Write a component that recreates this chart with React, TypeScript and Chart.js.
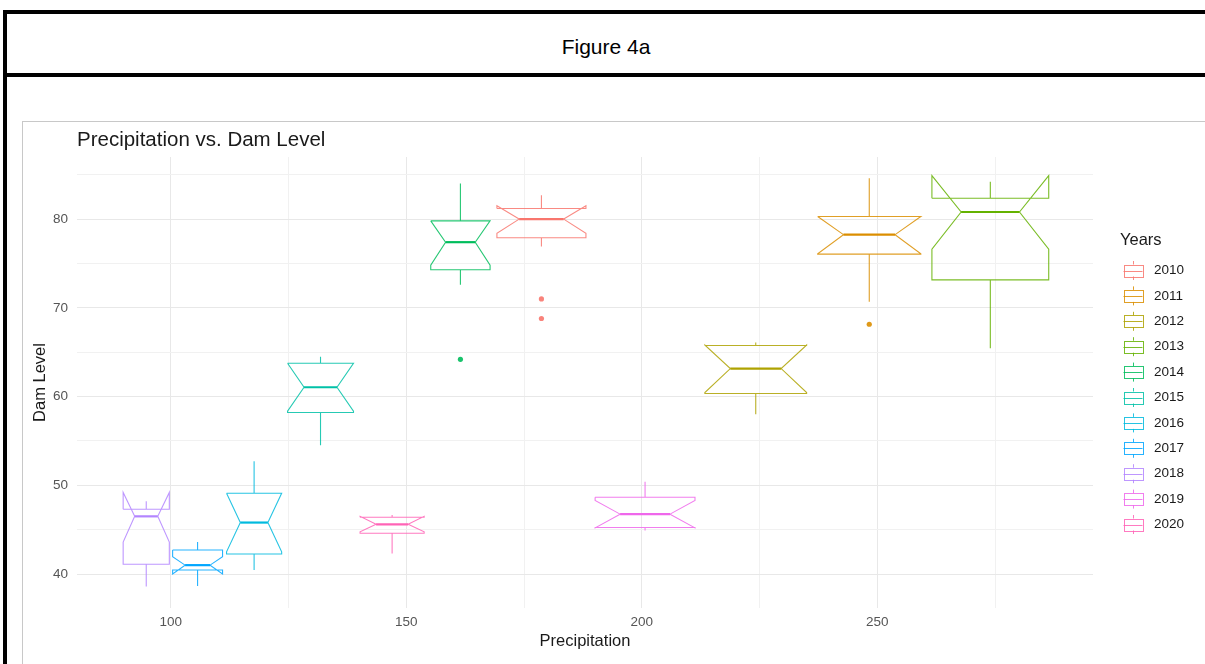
import { useEffect, useRef } from "react";
import { Chart, registerables } from "chart.js";

Chart.register(...registerables);

// Box statistics per year (x = precipitation, y = dam level)
const years = ["2010", "2011", "2012", "2013", "2014", "2015", "2016", "2017", "2018", "2019", "2020"];
const colors = ["#F8766D", "#DB8E00", "#AEA200", "#64B200", "#00BD5C", "#00C1A7", "#00BADE", "#00A6FF", "#B385FF", "#EF67EB", "#FF63B6"];
const precipitation = [178.7, 248.3, 224.2, 274.0, 161.5, 131.8, 117.7, 105.7, 94.8, 200.7, 147.0];
const boxWidths = [18.9, 21.9, 21.6, 24.8, 12.6, 14.0, 11.7, 10.6, 9.8, 21.2, 13.6];
const lowerWhisker = [76.9, 70.7, 58.0, 65.45, 72.6, 54.5, 40.45, 38.65, 38.6, 44.9, 42.3];
const lowerHinge = [77.9, 76.05, 60.35, 73.15, 74.3, 58.2, 42.25, 40.45, 41.1, 45.25, 44.6];
const medians = [80.0, 78.25, 63.15, 80.8, 77.4, 61.05, 45.8, 41.0, 46.5, 46.75, 45.6];
const upperHinge = [81.2, 80.3, 65.75, 82.35, 79.8, 63.75, 49.1, 42.7, 47.3, 48.65, 46.4];
const upperWhisker = [82.7, 84.6, 66.1, 84.2, 84.0, 64.5, 52.7, 43.6, 48.2, 50.4, 46.65];
const notchLower = [78.4, 76.1, 60.45, 76.6, 74.8, 58.35, 42.5, 40.0, 43.6, 45.2, 44.75];
const notchUpper = [81.5, 80.3, 65.8, 84.9, 79.8, 63.75, 49.1, 41.95, 49.2, 48.3, 46.5];
const outliers: number[][] = [[71.0, 68.8], [68.15], [], [], [64.2], [], [], [], [], [], []];

// Axis ranges and ticks
const xMin = 80.1;
const xMax = 295.8;
const yMin = 36.17;
const yMax = 87.0;
const xTickValues = [100, 125, 150, 175, 200, 225, 250, 275];
const yTickValues = [40, 45, 50, 55, 60, 65, 70, 75, 80, 85];
const xLabelStep = 50;
const yLabelStep = 10;

const plotTitle = "Precipitation vs. Dam Level";
const legendTitle = "Years";
const FONT = '"Liberation Sans", Arial, sans-serif';

function withAlpha(hex: string, a: number) {
  const n = parseInt(hex.slice(1), 16);
  return `rgba(${(n >> 16) & 255}, ${(n >> 8) & 255}, ${n & 255}, ${a})`;
}

function buildDatasets() {
  const sets: any[] = [];
  years.forEach((year, i) => {
    const c = precipitation[i];
    const half = boxWidths[i] / 2;
    const indent = boxWidths[i] / 4;
    const l = c - half;
    const r = c + half;
    const outline = [
      { x: l, y: upperHinge[i] },
      { x: l, y: notchUpper[i] },
      { x: l + indent, y: medians[i] },
      { x: l, y: notchLower[i] },
      { x: l, y: lowerHinge[i] },
      { x: r, y: lowerHinge[i] },
      { x: r, y: notchLower[i] },
      { x: r - indent, y: medians[i] },
      { x: r, y: notchUpper[i] },
      { x: r, y: upperHinge[i] },
      { x: l, y: upperHinge[i] },
      { x: c, y: null },
      { x: c, y: upperHinge[i] },
      { x: c, y: upperWhisker[i] },
      { x: c, y: null },
      { x: c, y: lowerHinge[i] },
      { x: c, y: lowerWhisker[i] },
    ];
    sets.push({
      label: year,
      data: outline,
      showLine: true,
      spanGaps: false,
      tension: 0,
      borderColor: withAlpha(colors[i], 0.85),
      borderWidth: 1.1,
      pointRadius: 0,
      pointHoverRadius: 0,
      fill: false,
    });
    sets.push({
      label: year + " median",
      data: [
        { x: l + indent, y: medians[i] },
        { x: r - indent, y: medians[i] },
      ],
      showLine: true,
      borderColor: colors[i],
      borderWidth: 2.2,
      pointRadius: 0,
      pointHoverRadius: 0,
      fill: false,
    });
    if (outliers[i].length) {
      sets.push({
        label: year + " outliers",
        data: outliers[i].map((v) => ({ x: c, y: v })),
        showLine: false,
        pointRadius: 2.6,
        pointHoverRadius: 2.6,
        backgroundColor: withAlpha(colors[i], 0.9),
        borderWidth: 0,
      });
    }
  });
  return sets;
}

// Plot title and the "Years" key with boxplot glyphs
const decorPlugin = {
  id: "decor",
  afterDraw(chart: any) {
    const { ctx, chartArea } = chart;
    ctx.save();
    ctx.fillStyle = "#1a1a1a";
    ctx.textBaseline = "middle";
    ctx.textAlign = "left";
    ctx.font = `20.5px ${FONT}`;
    ctx.fillText(plotTitle, chartArea.left, chartArea.top - 17);

    const itemGap = 25.4;
    const titleGap = 30;
    const total = titleGap + (years.length - 1) * itemGap;
    const cy = (chartArea.top + chartArea.bottom) / 2;
    const titleY = cy - total / 2;
    const baseX = chartArea.right;
    ctx.font = `16.5px ${FONT}`;
    ctx.fillText(legendTitle, baseX + 27, titleY);

    ctx.font = `13.5px ${FONT}`;
    years.forEach((year, i) => {
      const y = titleY + titleGap + i * itemGap;
      const cx = baseX + 40;
      ctx.strokeStyle = withAlpha(colors[i], 0.85);
      ctx.lineWidth = 1;
      ctx.strokeRect(Math.round(cx - 9.5) + 0.5, Math.round(y - 6) + 0.5, 19, 12);
      ctx.beginPath();
      ctx.moveTo(cx - 9.5, Math.round(y) + 0.5);
      ctx.lineTo(cx + 9.5, Math.round(y) + 0.5);
      ctx.moveTo(Math.round(cx) + 0.5, y - 9.5);
      ctx.lineTo(Math.round(cx) + 0.5, y - 6);
      ctx.moveTo(Math.round(cx) + 0.5, y + 6);
      ctx.lineTo(Math.round(cx) + 0.5, y + 9.5);
      ctx.stroke();
      ctx.fillStyle = "#1a1a1a";
      ctx.fillText(year, baseX + 61, y);
    });
    ctx.restore();
  },
};

function BoxChart() {
  const ref = useRef<HTMLCanvasElement | null>(null);
  useEffect(() => {
    if (!ref.current) return;
    const gridColor = (ctx: any, step: number) =>
      ctx.tick && ctx.tick.value % step === 0 ? "#e8e8e8" : "#f1f1f1";
    const chart = new Chart(ref.current, {
      type: "scatter",
      data: { datasets: buildDatasets() },
      options: {
        responsive: false,
        animation: false,
        events: [],
        devicePixelRatio: 1,
        layout: { padding: { top: 35, right: 112, left: 0, bottom: 0 } },
        plugins: {
          legend: { display: false },
          tooltip: { enabled: false },
          title: { display: false },
        },
        scales: {
          x: {
            type: "linear",
            min: xMin,
            max: xMax,
            afterBuildTicks: (scale: any) => {
              scale.ticks = xTickValues.map((v) => ({ value: v }));
            },
            afterFit: (scale: any) => {
              scale.height = 56;
            },
            border: { display: false },
            grid: {
              drawTicks: false,
              color: (ctx: any) => gridColor(ctx, xLabelStep),
              lineWidth: 1,
            },
            ticks: {
              padding: 6.6,
              color: "#555555",
              font: { family: FONT, size: 13.5 },
              maxRotation: 0,
              autoSkip: false,
              callback: (v: any) => (Number(v) % xLabelStep === 0 ? String(v) : ""),
            },
            title: {
              display: true,
              text: "Precipitation",
              color: "#1a1a1a",
              font: { family: FONT, size: 16.5 },
              padding: { top: 0, bottom: 12.4 },
            },
          },
          y: {
            type: "linear",
            min: yMin,
            max: yMax,
            afterBuildTicks: (scale: any) => {
              scale.ticks = yTickValues.map((v) => ({ value: v }));
            },
            afterFit: (scale: any) => {
              scale.width = 54;
            },
            border: { display: false },
            grid: {
              drawTicks: false,
              color: (ctx: any) => gridColor(ctx, yLabelStep),
              lineWidth: 1,
            },
            ticks: {
              padding: 9,
              color: "#555555",
              font: { family: FONT, size: 13.5 },
              autoSkip: false,
              callback: (v: any) => (Number(v) % yLabelStep === 0 ? String(v) : ""),
            },
            title: {
              display: true,
              text: "Dam Level",
              color: "#1a1a1a",
              font: { family: FONT, size: 16.5 },
              padding: { top: 7.1, bottom: 0 },
            },
          },
        },
      } as any,
      plugins: [decorPlugin],
    });
    return () => chart.destroy();
  }, []);
  return (
    <canvas
      ref={ref}
      width={1182}
      height={542}
      style={{ position: "absolute", left: 23, top: 122, width: 1182, height: 542 }}
    />
  );
}

export default function App() {
  return (
    <div
      style={{
        position: "absolute",
        left: 0,
        top: 0,
        width: 1205,
        height: 664,
        background: "#fff",
        overflow: "hidden",
      }}
    >
      <div style={{ position: "absolute", left: 3, top: 10, width: 1202, height: 4, background: "#000" }} />
      <div style={{ position: "absolute", left: 3, top: 10, width: 4, height: 654, background: "#000" }} />
      <div style={{ position: "absolute", left: 3, top: 73, width: 1202, height: 4, background: "#000" }} />
      <div
        style={{
          position: "absolute",
          left: 7,
          top: 35,
          width: 1198,
          textAlign: "center",
          font: `21px ${FONT}`,
          lineHeight: "24px",
          color: "#000",
        }}
      >
        Figure 4a
      </div>
      <div
        style={{
          position: "absolute",
          left: 22,
          top: 121,
          width: 1183,
          height: 543,
          borderTop: "1px solid #c8c8c8",
          borderLeft: "1px solid #c8c8c8",
          boxSizing: "border-box",
        }}
      />
      <BoxChart />
    </div>
  );
}
